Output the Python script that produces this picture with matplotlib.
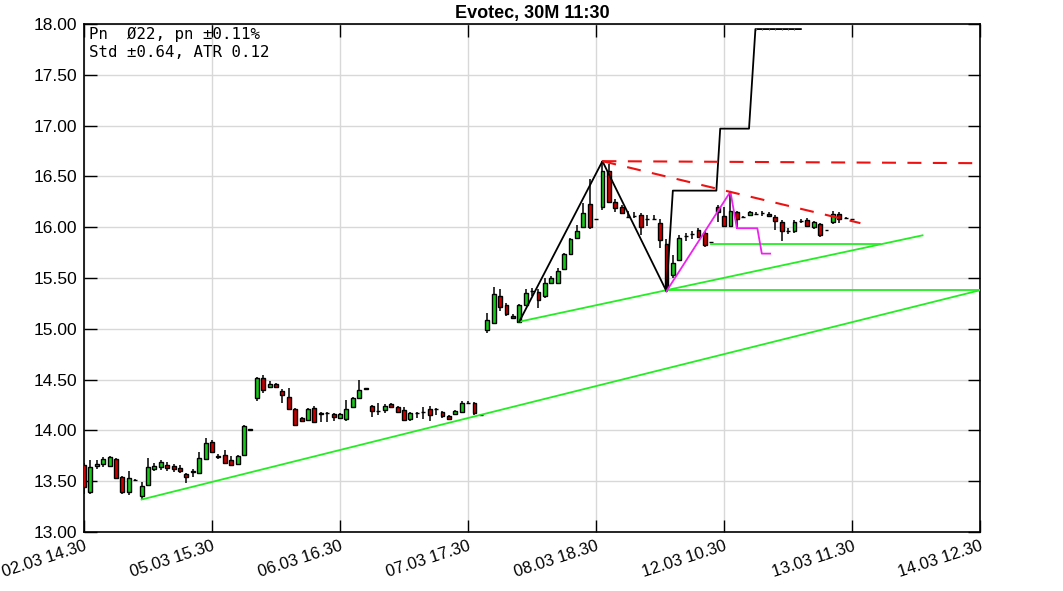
import matplotlib
matplotlib.use("Agg")
import matplotlib.pyplot as plt
import matplotlib.transforms as mtransforms

# 30M candles, bar index 0..120
opens = [13.66, 13.39, 13.65, 13.67, 13.65, 13.72, 13.54, 13.39, 13.51, 13.35,
         13.46, 13.62, 13.64, 13.66, 13.65, 13.63, 13.57, 13.59, 13.58, 13.72,
         13.89, 13.75, 13.76, 13.71, 13.67, 13.76, 14.00, 14.32, 14.52, 14.43,
         14.46, 14.39, 14.33, 14.21, 14.12, 14.10, 14.22, 14.17, 14.17, 14.16,
         14.12, 14.11, 14.23, 14.32, 14.41, 14.24, 14.19, 14.20, 14.26, 14.23,
         14.20, 14.11, 14.17, 14.18, 14.21, 14.21, 14.18, 14.14, 14.16, 14.18,
         14.27, 14.27, 14.15, 14.99, 15.06, 15.32, 15.23, 15.13, 15.07, 15.23,
         15.37, 15.36, 15.32, 15.45, 15.45, 15.59, 15.74, 15.89, 16.00, 16.23,
         16.08, 16.20, 16.55, 16.25, 16.20, 16.10, 16.11, 16.12, 16.08, 16.08,
         16.04, 15.83, 15.53, 15.68, 15.91, 15.93, 15.97, 15.94, 15.85, 16.20,
         16.11, 16.01, 16.15, 16.10, 16.12, 16.13, 16.14, 16.13, 16.10, 16.05,
         15.96, 15.96, 16.06, 16.07, 16.00, 16.03, 15.97, 16.05, 16.13, 16.09,
         16.08]
highs = [13.68, 13.71, 13.71, 13.74, 13.75, 13.73, 13.55, 13.60, 13.52, 13.49,
         13.73, 13.68, 13.71, 13.69, 13.67, 13.66, 13.58, 13.62, 13.79, 13.93,
         13.91, 13.77, 13.81, 13.75, 13.76, 14.05, 14.01, 14.53, 14.55, 14.49,
         14.47, 14.41, 14.42, 14.22, 14.13, 14.22, 14.24, 14.18, 14.18, 14.17,
         14.17, 14.30, 14.33, 14.50, 14.41, 14.25, 14.27, 14.26, 14.27, 14.24,
         14.23, 14.18, 14.18, 14.23, 14.24, 14.22, 14.19, 14.15, 14.20, 14.29,
         14.29, 14.28, 14.15, 15.16, 15.41, 15.39, 15.25, 15.15, 15.24, 15.39,
         15.40, 15.39, 15.50, 15.52, 15.60, 15.75, 15.89, 16.02, 16.24, 16.47,
         16.08, 16.65, 16.62, 16.28, 16.22, 16.16, 16.15, 16.14, 16.12, 16.12,
         16.08, 15.88, 15.73, 15.92, 15.94, 15.96, 15.99, 15.96, 15.85, 16.22,
         16.20, 16.35, 16.16, 16.11, 16.16, 16.15, 16.16, 16.15, 16.12, 16.07,
         15.99, 16.07, 16.08, 16.09, 16.06, 16.04, 15.97, 16.16, 16.15, 16.10,
         16.08]
lows = [13.37, 13.37, 13.62, 13.64, 13.64, 13.52, 13.37, 13.36, 13.50, 13.32,
        13.45, 13.60, 13.61, 13.60, 13.59, 13.58, 13.48, 13.54, 13.57, 13.71,
        13.78, 13.72, 13.67, 13.65, 13.66, 13.76, 14.00, 14.29, 14.37, 14.42,
        14.42, 14.27, 14.20, 14.04, 14.08, 14.09, 14.07, 14.08, 14.08, 14.09,
        14.11, 14.09, 14.22, 14.31, 14.41, 14.13, 14.15, 14.17, 14.22, 14.17,
        14.09, 14.09, 14.12, 14.11, 14.09, 14.15, 14.12, 14.10, 14.15, 14.17,
        14.26, 14.15, 14.15, 14.96, 15.05, 15.18, 15.13, 15.10, 15.06, 15.22,
        15.32, 15.20, 15.30, 15.44, 15.44, 15.58, 15.73, 15.88, 15.99, 15.98,
        16.08, 16.17, 16.24, 16.15, 16.13, 16.09, 16.09, 15.92, 16.01, 16.07,
        15.80, 15.37, 15.50, 15.67, 15.86, 15.88, 15.89, 15.81, 15.85, 16.05,
        16.00, 16.00, 15.98, 16.09, 16.11, 16.12, 16.11, 16.10, 15.97, 15.86,
        15.93, 15.94, 16.04, 16.00, 15.98, 15.90, 15.97, 16.03, 16.04, 16.08,
        16.08]
closes = [13.44, 13.64, 13.67, 13.72, 13.74, 13.53, 13.39, 13.53, 13.51, 13.45,
          13.64, 13.65, 13.69, 13.63, 13.62, 13.60, 13.54, 13.60, 13.73, 13.88,
          13.79, 13.74, 13.68, 13.66, 13.75, 14.04, 14.01, 14.52, 14.40, 14.46,
          14.43, 14.35, 14.21, 14.05, 14.09, 14.21, 14.08, 14.16, 14.17, 14.13,
          14.16, 14.21, 14.32, 14.40, 14.41, 14.19, 14.19, 14.24, 14.23, 14.18,
          14.10, 14.17, 14.17, 14.18, 14.15, 14.21, 14.14, 14.11, 14.19, 14.27,
          14.27, 14.17, 14.15, 15.09, 15.34, 15.21, 15.15, 15.11, 15.23, 15.35,
          15.37, 15.28, 15.45, 15.50, 15.57, 15.74, 15.88, 15.96, 16.14, 16.00,
          16.08, 16.55, 16.25, 16.19, 16.14, 16.10, 16.11, 16.00, 16.08, 16.08,
          15.87, 15.40, 15.65, 15.89, 15.91, 15.93, 15.90, 15.82, 15.85, 16.15,
          16.01, 16.16, 16.08, 16.10, 16.15, 16.13, 16.14, 16.11, 16.06, 15.96,
          15.96, 16.05, 16.06, 16.01, 16.05, 15.92, 15.97, 16.13, 16.08, 16.09,
          16.08]

tick_pos = [0, 20, 40, 60, 80, 100, 120, 140]
tick_labels = ['02.03 14.30', '05.03 15.30', '06.03 16.30', '07.03 17.30',
               '08.03 18.30', '12.03 10.30', '13.03 11.30', '14.03 12.30']

# swing lines (bar index, price)
zigzag_x = [68, 81, 91]
zigzag_y = [15.07, 16.65, 15.37]
step_x = [91, 92, 98.8, 99.4, 103.9, 104.9, 112]
step_y = [15.37, 16.36, 16.36, 16.97, 16.97, 17.95, 17.95]
top_marks_x = [105, 106, 107, 108, 109, 110, 111]
pink_x = [91, 101, 102, 105.2, 105.9, 107.2]
pink_y = [15.37, 16.35, 15.99, 15.99, 15.74, 15.74]
red_flat_x = [81, 140]
red_flat_y = [16.65, 16.63]
red_down_x = [81, 121.3]
red_down_y = [16.65, 16.04]
green_lines = [
    ([9, 140], [13.32, 15.38]),
    ([68, 131], [15.07, 15.92]),
    ([91, 140], [15.38, 15.38]),
    ([98, 124.4], [15.83, 15.83]),
]

fig = plt.figure(figsize=(10.63, 5.91), dpi=100)
ax = fig.add_axes([0.079, 0.0998, 0.843, 0.8596])

ax.grid(True, color='#d8d8d8', linewidth=1, zorder=0)
ax.set_axisbelow(True)

for i in range(len(opens)):
    o, h, l, c = opens[i], highs[i], lows[i], closes[i]
    col = '#19c819' if c >= o else '#c80000'
    ax.vlines(i, l, h, color='black', linewidth=1.1, zorder=2)
    bottom = min(o, c)
    height = max(abs(c - o), 0.004)
    ax.bar(i, height, bottom=bottom, width=0.6, color=col,
           edgecolor='black', linewidth=1, zorder=3)

for xs, ys in green_lines:
    ax.plot(xs, ys, color='#22ee22', linewidth=1.3, zorder=4)
ax.plot(zigzag_x, zigzag_y, color='black', linewidth=1.3, zorder=5)
ax.plot(step_x, step_y, color='black', linewidth=1.3, zorder=5)
ax.plot(top_marks_x, [step_y[-1]] * len(top_marks_x), linestyle='none',
        marker='|', markersize=1.5, markeredgewidth=0.8, color='#555555',
        zorder=5)
ax.plot(pink_x, pink_y, color='#ee22ee', linewidth=1.3, zorder=5)
ax.plot(red_flat_x, red_flat_y, color='#ee1111', linewidth=1.5,
        dashes=(6.7, 5.5), zorder=5)
ax.plot(red_down_x, red_down_y, color='#ee1111', linewidth=1.5,
        dashes=(6.7, 5.5), zorder=5)

ax.set_xlim(0, 140)
ax.set_ylim(13, 18)
ax.set_yticks([13 + 0.5 * k for k in range(11)])
ax.set_yticklabels([f"{13 + 0.5 * k:.2f}" for k in range(11)],
                   fontfamily='Liberation Sans', fontsize=12.5)
ax.set_xticks(tick_pos)
ax.set_xticklabels(tick_labels, rotation=18, ha='right', va='top',
                   rotation_mode='anchor', fontfamily='Liberation Sans',
                   fontsize=12)
offset = mtransforms.ScaledTranslation(8 / 100, -6 / 100, fig.dpi_scale_trans)
for lab in ax.get_xticklabels():
    lab.set_transform(lab.get_transform() + offset)

ax.tick_params(direction='in', length=9, width=1, top=True, right=True,
               pad=5)
for sp in ax.spines.values():
    sp.set_linewidth(1.2)

ax.set_title("Evotec, 30M 11:30", fontsize=13, fontweight='bold',
             fontfamily='Liberation Sans', pad=4)
ax.text(0.006, 0.995, "Pn  \u00d822, pn \u00b10.11%\nStd \u00b10.64, ATR 0.12",
        transform=ax.transAxes, ha='left', va='top',
        fontfamily='DejaVu Sans Mono', fontsize=11.3, linespacing=1.25)

fig.savefig("out.png", dpi=100)
